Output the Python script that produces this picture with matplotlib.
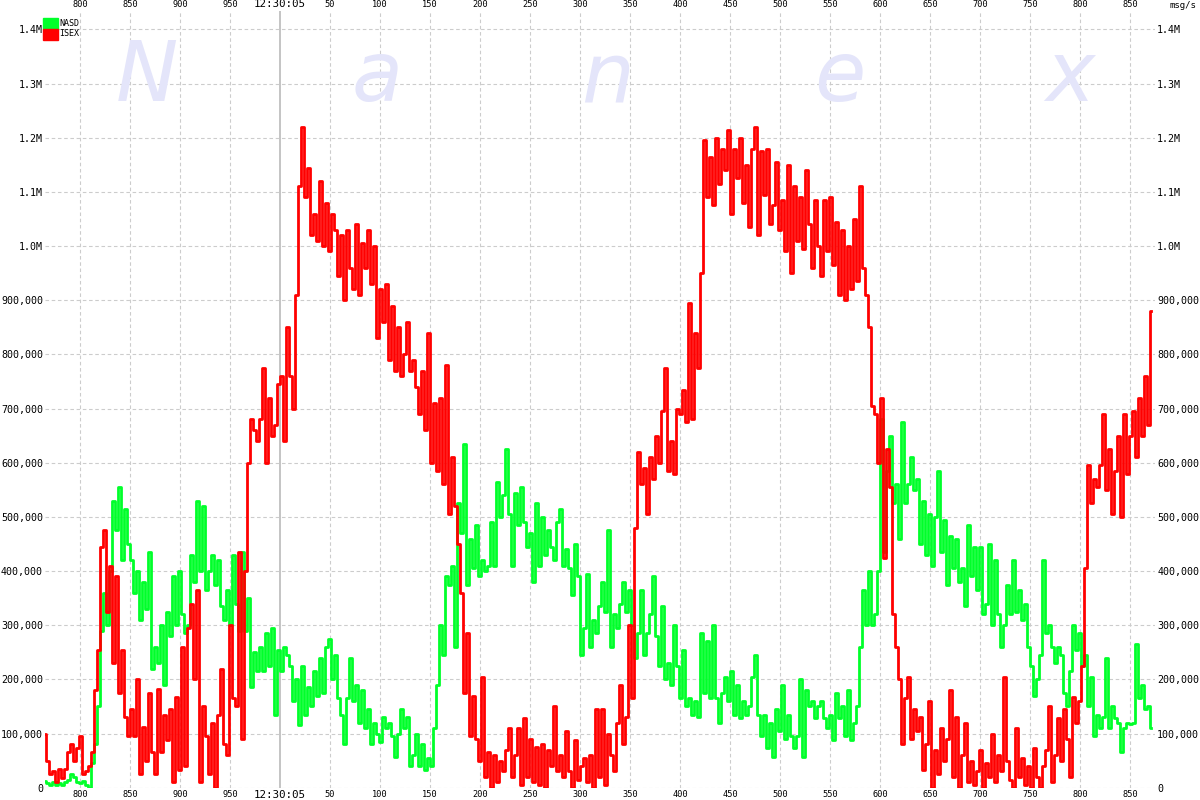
import numpy as np
import matplotlib
matplotlib.use("Agg")
import matplotlib.pyplot as plt
from matplotlib.patches import Rectangle
from matplotlib.ticker import FixedLocator, FuncFormatter

# sample times, ms relative to 12:30:05.000 (one sample every 3 ms)
T0 = -236
STEP = 3

# ISEX msg/s, in thousands
isex_k = [
    100, 50, 25, 30, 10, 35, 17, 35, 65, 80, 50, 73, 95, 25, 30, 40,
    65, 180, 255, 445, 475, 325, 410, 230, 390, 175, 255, 130, 95, 145, 95, 200,
    25, 112, 50, 175, 65, 25, 183, 65, 135, 88, 145, 10, 168, 33, 260,
    40, 295, 340, 200, 365, 10, 150, 95, 25, 120, 0, 135, 220, 80, 60, 300,
    165, 150, 435, 90, 400, 600, 680, 660, 640, 680, 775, 600, 720, 650, 670, 745,
    760, 640, 850, 760, 700, 910, 1110, 1220, 1090, 1145, 1020, 1060, 1010, 1120, 1000, 1080,
    990, 1060, 1030, 945, 1020, 900, 1030, 960, 920, 1040, 910, 1005, 960, 1030, 930, 1000,
    830, 920, 860, 930, 790, 890, 770, 850, 760, 800, 860, 770, 790, 740, 690, 770,
    660, 840, 600, 710, 585, 720, 560, 780, 505, 610, 520, 450, 360, 175, 285, 95,
    170, 90, 50, 205, 20, 65, 0, 60, 10, 50, 30, 70, 110, 20, 60, 110,
    5, 128, 20, 90, 10, 75, 5, 80, 0, 70, 40, 150, 30, 60, 20, 105,
    30, 0, 88, 15, 40, 55, 10, 60, 0, 145, 20, 145, 5, 100, 60, 30,
    120, 190, 80, 130, 300, 165, 480, 620, 560, 590, 505, 610, 570, 650, 600, 695,
    775, 585, 640, 580, 700, 690, 735, 675, 895, 680, 840, 775, 950, 1195, 1090, 1165,
    1075, 1200, 1115, 1180, 1140, 1215, 1060, 1180, 1125, 1200, 1080, 1150, 1035, 1180, 1220, 1020,
    1175, 1095, 1180, 1040, 1075, 1155, 1030, 1085, 990, 1150, 950, 1110, 1010, 1090, 995, 1140,
    1040, 960, 1085, 1000, 945, 1085, 990, 1090, 965, 1045, 910, 1030, 900, 1000, 920, 1050,
    935, 1110, 960, 910, 850, 705, 690, 600, 720, 425, 625, 555, 320, 260, 200, 80,
    165, 205, 90, 145, 105, 130, 33, 80, 160, 0, 70, 25, 110, 50, 90, 180,
    20, 130, 0, 60, 120, 10, 50, 5, 30, 70, 0, 45, 20, 100, 10, 60,
    30, 205, 50, 15, 0, 110, 20, 55, 5, 40, 0, 73, 20, 0, 40, 70,
    150, 10, 60, 128, 50, 145, 90, 20, 168, 120, 160, 225, 405, 595, 525, 570,
    555, 595, 690, 550, 625, 505, 585, 650, 500, 690, 580, 650, 695, 610, 720, 650,
    760, 670, 880,
]

# NASD msg/s, in thousands
nasd_k = [
    13, 8, 5, 10, 5, 8, 5, 10, 15, 25, 20, 10, 8, 12, 5, 0,
    45, 80, 150, 290, 360, 300, 400, 530, 475, 555, 420, 515, 450, 420, 360, 400,
    310, 380, 330, 435, 220, 260, 230, 300, 190, 325, 280, 390, 300, 400, 320,
    285, 300, 430, 380, 530, 400, 520, 365, 400, 430, 375, 420, 335, 310, 365, 300,
    430, 340, 290, 435, 290, 350, 185, 250, 215, 260, 215, 285, 225, 295, 135, 255,
    215, 260, 245, 225, 160, 200, 115, 225, 135, 185, 150, 215, 170, 240, 175, 260,
    275, 200, 245, 165, 135, 80, 165, 240, 160, 190, 120, 180, 110, 145, 80, 120,
    100, 85, 130, 110, 120, 95, 57, 100, 145, 110, 130, 40, 60, 100, 40, 80,
    33, 55, 40, 110, 190, 300, 245, 390, 375, 410, 260, 525, 470, 635, 375, 460,
    405, 485, 390, 420, 400, 410, 490, 410, 565, 500, 540, 625, 505, 410, 545, 485,
    555, 490, 445, 470, 380, 525, 410, 500, 430, 475, 445, 420, 490, 515, 410, 440,
    405, 355, 450, 390, 245, 295, 395, 260, 310, 285, 335, 380, 325, 475, 260, 320,
    295, 340, 380, 325, 365, 300, 240, 285, 365, 245, 285, 320, 390, 280, 225, 335,
    200, 230, 190, 300, 225, 165, 255, 150, 165, 135, 160, 130, 285, 175, 270, 165,
    300, 165, 120, 175, 205, 160, 215, 135, 190, 128, 160, 135, 150, 205, 245, 135,
    95, 135, 73, 120, 57, 145, 105, 190, 90, 135, 95, 73, 95, 200, 57, 180,
    150, 160, 128, 150, 160, 128, 110, 135, 88, 175, 128, 150, 95, 180, 88, 120,
    150, 260, 365, 300, 400, 300, 320, 400, 680, 435, 585, 650, 525, 560, 460, 675,
    525, 560, 610, 550, 570, 450, 530, 430, 505, 410, 500, 585, 435, 495, 375, 465,
    405, 460, 380, 405, 335, 485, 390, 445, 365, 445, 320, 340, 450, 300, 420, 320,
    260, 300, 375, 320, 420, 325, 365, 310, 340, 260, 225, 170, 200, 245, 420, 285,
    300, 260, 230, 260, 245, 175, 150, 215, 300, 255, 285, 225, 245, 150, 205, 95,
    135, 110, 130, 240, 110, 150, 128, 120, 65, 110, 120, 118, 120, 265, 165, 190,
    145, 150, 110,
]

x_ticks = list(range(-200, 851, 50))
y_ticks = list(range(0, 1400001, 100000))
watermark = "Nanex"

t_isex = T0 + STEP * np.arange(len(isex_k))
t_nasd = T0 + STEP * np.arange(len(nasd_k))
isex = np.array(isex_k) * 1000.0
nasd = np.array(nasd_k) * 1000.0

W, H = 1200, 800
fig = plt.figure(figsize=(W / 100, H / 100), dpi=100)
fig.patch.set_facecolor("white")

# axes box in pixels
left, right, top, bottom = 45, 1155, 11, 787.7
ax = fig.add_axes([left / W, (H - bottom) / H, (right - left) / W, (bottom - top) / H])
ax.set_facecolor("none")

# watermark letters behind everything
wm_x = [147, 377, 607, 840, 1070]
for ch, px in zip(watermark, wm_x):
    fig.text(px / W, (H - 101) / H, ch, fontsize=60, style="italic",
             family="DejaVu Sans", color="#e4e5fa", ha="center", va="baseline",
             zorder=0)

ax.set_xlim(-235, 875)
ax.set_ylim(0, 1434000)

# grid
for xt in x_ticks:
    if xt == 0:
        ax.axvline(0, color="#c4c4c4", lw=1.4, zorder=1)
    else:
        ax.axvline(xt, color="#cccccc", lw=0.8, dashes=(3.2, 2.4), zorder=1)
for yt in y_ticks:
    ax.axhline(yt, color="#cccccc", lw=0.8, dashes=(3.2, 2.4), zorder=1)

ax.plot(t_nasd, nasd, color="#00ff2a", lw=2.0, drawstyle="steps-mid", zorder=3)
ax.plot(t_isex, isex, color="#ff0000", lw=2.0, drawstyle="steps-mid", zorder=4)

for s in ax.spines.values():
    s.set_visible(False)


def xfmt(v, pos):
    v = int(round(v))
    if v == 0:
        return "12:30:05"
    if v < 0:
        return str(1000 + v)
    return str(v)


def yfmt(v, pos):
    if v == 0:
        return "0"
    if v >= 1000000:
        return "%.1fM" % (v / 1e6)
    return "{:,}".format(int(v))


ax.xaxis.set_major_locator(FixedLocator(x_ticks))
ax.xaxis.set_major_formatter(FuncFormatter(xfmt))
ax.yaxis.set_major_locator(FixedLocator(y_ticks))
ax.yaxis.set_major_formatter(FuncFormatter(yfmt))

ax.tick_params(axis="x", which="both", length=0, labeltop=True, labelbottom=True,
               labelsize=6.2, pad=1.5)
ax.tick_params(axis="y", which="both", length=0, labelleft=True, labelright=True,
               labelsize=7.2, pad=1.5)

for tick in ax.xaxis.get_major_ticks() + ax.yaxis.get_major_ticks():
    for lab in (tick.label1, tick.label2):
        lab.set_family("DejaVu Sans Mono")
for tick, xt in zip(ax.xaxis.get_major_ticks(), x_ticks):
    if xt == 0:
        tick.label1.set_fontsize(7.8)
        tick.label2.set_fontsize(7.8)

# legend in the top-left corner
fig.patches.append(Rectangle((43 / W, (H - 29) / H), 15 / W, 11 / H,
                             transform=fig.transFigure, color="#00ff2a", figure=fig))
fig.patches.append(Rectangle((43 / W, (H - 40) / H), 15 / W, 11 / H,
                             transform=fig.transFigure, color="#ff0000", figure=fig))
fig.text(59 / W, (H - 23) / H, "NASD", fontsize=6, family="DejaVu Sans Mono",
         va="center", ha="left")
fig.text(59 / W, (H - 34) / H, "ISEX", fontsize=6, family="DejaVu Sans Mono",
         va="center", ha="left")

fig.text(1183 / W, (H - 6) / H, "msg/s", fontsize=6.5, family="DejaVu Sans Mono",
         va="center", ha="center")

fig.savefig("out.png", dpi=100)
